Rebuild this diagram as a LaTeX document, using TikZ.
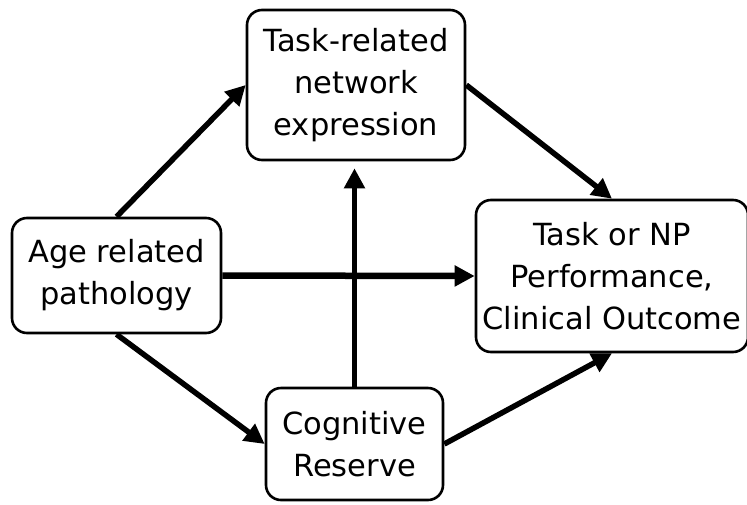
\documentclass[tikz,border=0pt]{standalone}
\usepackage{fontspec}
\setmainfont{DejaVu Sans}
\usetikzlibrary{arrows.meta}
\begin{document}
\begin{tikzpicture}[x=1pt,y=-1pt]
            \useasboundingbox (0,0) rectangle (747,504);
            \begin{scope}[every node/.style={draw,line width=2.6pt,rounded corners=15pt,align=center,inner sep=0pt,font=\fontsize{30.5}{42}\selectfont}]
                \node[minimum width=218pt,minimum height=150pt] (task) at (356,85) {Task-related\\network\\expression};
                \node[minimum width=209pt,minimum height=115pt] (age) at (116.5,275.5) {Age related\\pathology};
                \node[minimum width=177pt,minimum height=112pt] (reserve) at (354.5,444) {Cognitive\\Reserve};
                \node[minimum width=272pt,minimum height=152pt] (outcome) at (612,276) {Task or NP\\Performance,\\Clinical Outcome};
            \end{scope}
            \begin{scope}[every edge/.style={draw,line width=5.5pt,-{Triangle[length=20pt,width=20pt]}}]
                \path
                    (age.north) edge (task.west)
                    (task.east) edge (outcome.north)
                    (age.east) edge [line width=6.5pt] (outcome.west)
                    (age.south) edge (reserve.west)
                    (reserve.east) edge (outcome.south)
                    (reserve.north) edge [line width=5pt,shorten >=7pt] (reserve.north |- task.south);
            \end{scope}
        \end{tikzpicture}
\end{document}
